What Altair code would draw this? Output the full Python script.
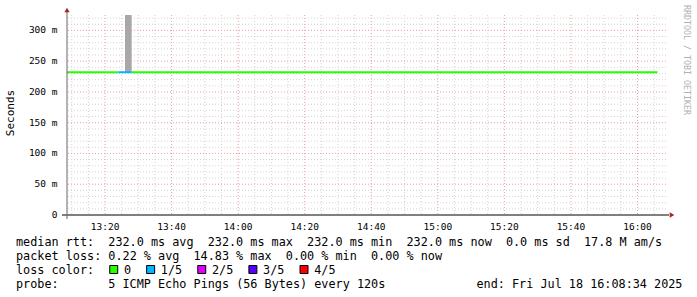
import re
import altair as alt
import pandas as pd

DAY = "2025-07-18"
T_START = "13:08:34"
T_END = "16:08:34"

# median rtt (seconds, shown in ms units "m"), step segments coloured by loss
seg_start = ["13:08:34", "13:24:00", "13:28:00"]
seg_end = ["13:24:00", "13:28:00", "16:06:00"]
seg_rtt = [232.0, 232.0, 232.0]
seg_loss = ["0", "1/5", "0"]

# smoke (spread of the individual pings)
smoke_start = ["13:26:00"]
smoke_end = ["13:28:00"]
smoke_low = [232.0]
smoke_high = [325.0]

loss_labels = ["0", "1/5", "2/5", "3/5", "4/5"]
loss_colors = ["#26ff00", "#00b8ff", "#dd00ff", "#5500ff", "#ff0000"]

x_label_times = ["13:20", "13:40", "14:00", "14:20", "14:40", "15:00", "15:20", "15:40", "16:00"]
y_major = [0, 50, 100, 150, 200, 250, 300]
y_major_labels = ["0", "50 m", "100 m", "150 m", "200 m", "250 m", "300 m"]
Y_MAX = 325

legend_line1 = "median rtt:  232.0 ms avg  232.0 ms max  232.0 ms min  232.0 ms now  0.0 ms sd  17.8 M am/s"
legend_line2 = "packet loss: 0.22 % avg  14.83 % max  0.00 % min  0.00 % now"
legend_line3 = "loss color:"
legend_line4 = "probe:       5 ICMP Echo Pings (56 Bytes) every 120s"
end_text = "end: Fri Jul 18 16:08:34 2025"
y_title = "Seconds"
side_text = "RRDTOOL / TOBI OETIKER"

# ---------------- layout ----------------
W, H = 599, 200
PL, PT = 67, 15
PR, PB = 697 - PL - W, 297 - PT - H
MONO = "DejaVu Sans Mono"
FS = 11.8
CW = 7.1
TX0 = 16 - PL  # left of legend text in chart coords


def ts(t):
    return f"{DAY}T{t}"


def dt(t):
    parts = [int(p) for p in t.split(":")]
    while len(parts) < 3:
        parts.append(0)
    return alt.DateTime(year=2025, month=7, date=18, hours=parts[0], minutes=parts[1], seconds=parts[2])


xscale = alt.Scale(domain=[dt(T_START), dt(T_END)])
yscale = alt.Scale(domain=[0, Y_MAX], nice=False, zero=True)

# grid values
x_minor = []
h, m = 13, 10
while (h, m) <= (16, 5):
    t = f"{h:02d}:{m:02d}"
    if t not in x_label_times:
        x_minor.append(ts(t + ":00"))
    m += 5
    if m >= 60:
        h, m = h + 1, m - 60
x_major = [ts(t + ":00") for t in x_label_times]
y_minor = [v for v in range(0, Y_MAX, 10) if v not in y_major]

grid_dash = [1, 2]
g_xminor = alt.Chart(pd.DataFrame({"t": x_minor})).mark_rule(
    color="#d4d4d4", strokeDash=grid_dash, strokeWidth=1
).encode(x=alt.X("t:T", scale=xscale, axis=None))
g_yminor = alt.Chart(pd.DataFrame({"v": y_minor})).mark_rule(
    color="#d4d4d4", strokeDash=grid_dash, strokeWidth=1
).encode(y=alt.Y("v:Q", scale=yscale, axis=None))
g_xmajor = alt.Chart(pd.DataFrame({"t": x_major})).mark_rule(
    color="#eaa0a0", strokeDash=grid_dash, strokeWidth=1
).encode(x=alt.X("t:T", scale=xscale, axis=None))
g_ymajor = alt.Chart(pd.DataFrame({"v": [v for v in y_major if v > 0]})).mark_rule(
    color="#eaa0a0", strokeDash=grid_dash, strokeWidth=1
).encode(y=alt.Y("v:Q", scale=yscale, axis=None))

# tick labels drawn through the scales
ylab = alt.Chart(pd.DataFrame({"v": y_major, "lab": y_major_labels})).mark_text(
    align="right", baseline="middle", font=MONO, fontSize=9.5, color="#000"
).encode(y=alt.Y("v:Q", scale=yscale, axis=None), x=alt.value(-9.5), text="lab:N")
xlab = alt.Chart(pd.DataFrame({"t": x_major, "lab": x_label_times})).mark_text(
    align="center", baseline="top", font=MONO, fontSize=9.5, color="#000"
).encode(x=alt.X("t:T", scale=xscale, axis=None), y=alt.value(H + 6.5), text="lab:N")

# smoke
smoke_df = pd.DataFrame({
    "s": [ts(t) for t in smoke_start], "e": [ts(t) for t in smoke_end],
    "lo": smoke_low, "hi": smoke_high,
})
smoke = alt.Chart(smoke_df).mark_rect(color="#a8a8a8").encode(
    x=alt.X("s:T", scale=xscale, axis=None), x2="e:T",
    y=alt.Y("lo:Q", scale=yscale, axis=None), y2="hi:Q",
)

# median line
seg_df = pd.DataFrame({
    "s": [ts(t) for t in seg_start], "e": [ts(t) for t in seg_end],
    "rtt": seg_rtt, "loss": seg_loss,
})
median = alt.Chart(seg_df).mark_rule(strokeWidth=2).encode(
    x=alt.X("s:T", scale=xscale, axis=None), x2="e:T",
    y=alt.Y("rtt:Q", scale=yscale, axis=None),
    color=alt.Color("loss:N", scale=alt.Scale(domain=loss_labels, range=loss_colors), legend=None),
)

one = pd.DataFrame({"a": [0]})
x_axis_line = alt.Chart(one).mark_rule(color="#000", strokeWidth=1).encode(
    x=alt.value(-5), x2=alt.value(W + 3), y=alt.value(H))
y_axis_line = alt.Chart(one).mark_rule(color="#666", strokeWidth=1).encode(
    x=alt.value(0), y=alt.value(-3), y2=alt.value(H + 4))
arrow_up = alt.Chart(one).mark_point(shape="triangle-up", filled=True, size=28, color="#a02828", opacity=1).encode(
    x=alt.value(0), y=alt.value(-5))
arrow_right = alt.Chart(one).mark_point(shape="triangle-right", filled=True, size=28, color="#a02828", opacity=1).encode(
    x=alt.value(W + 6), y=alt.value(H))


# legend text
def chunks(line, baseline_y, col0=0.0):
    rows = []
    for mt in re.finditer(r"\S+(?: \S+)*", line):
        rows.append({"txt": mt.group(0), "px": TX0 + (col0 + mt.start()) * CW, "py": baseline_y})
    return rows


rows = []
base = [245.5 - PT, 259.5 - PT, 273.5 - PT, 287.5 - PT]
rows += chunks(legend_line1, base[0])
rows += chunks(legend_line2, base[1])
rows += chunks(legend_line3, base[2])
rows += chunks(legend_line4, base[3])
rows.append({"txt": end_text, "px": TX0 + 65 * CW - 1, "py": base[3]})

# loss colour boxes and labels
box_rows = []
col = 13.2
for lab, colr in zip(loss_labels, loss_colors):
    bx = TX0 + col * CW
    box_rows.append({"x1": bx, "x2": bx + 8, "y1": base[2] - 8, "y2": base[2], "c": colr})
    rows.append({"txt": lab, "px": TX0 + (col + 2) * CW, "py": base[2]})
    col = col + 2 + len(lab) + 2.2

text_df = pd.DataFrame(rows)
legend_text = alt.Chart(text_df).mark_text(
    align="left", baseline="alphabetic", font=MONO, fontSize=FS, color="#000"
).encode(
    x=alt.X("px:Q", scale=None, axis=None),
    y=alt.Y("py:Q", scale=None, axis=None),
    text="txt:N",
)
boxes = alt.Chart(pd.DataFrame(box_rows)).mark_rect(stroke="#000", strokeWidth=1).encode(
    x=alt.X("x1:Q", scale=None, axis=None), x2="x2:Q",
    y=alt.Y("y1:Q", scale=None, axis=None), y2="y2:Q",
    fill=alt.Fill("c:N", scale=None, legend=None),
)

title_y = alt.Chart(one).mark_text(
    angle=270, align="center", baseline="middle", font=MONO, fontSize=11, color="#000", text=y_title
).encode(x=alt.value(11 - PL), y=alt.value(113 - PT))

side = alt.Chart(one).mark_text(
    angle=90, align="left", baseline="middle", font=MONO, fontSize=8.3, color="#b0b0b0", text=side_text
).encode(x=alt.value(686 - PL), y=alt.value(5 - PT))

chart = alt.layer(
    g_xminor, g_yminor, g_xmajor, g_ymajor, smoke, median,
    x_axis_line, y_axis_line, arrow_up, arrow_right, ylab, xlab,
    legend_text, boxes, title_y, side,
).properties(
    width=W, height=H,
    autosize=alt.AutoSizeParams(type="none"),
    padding={"left": PL, "top": PT, "right": PR, "bottom": PB},
    background="#ffffff",
).configure_view(stroke=None)

chart.save("out.html", embed_options={"renderer": "svg", "actions": False})
